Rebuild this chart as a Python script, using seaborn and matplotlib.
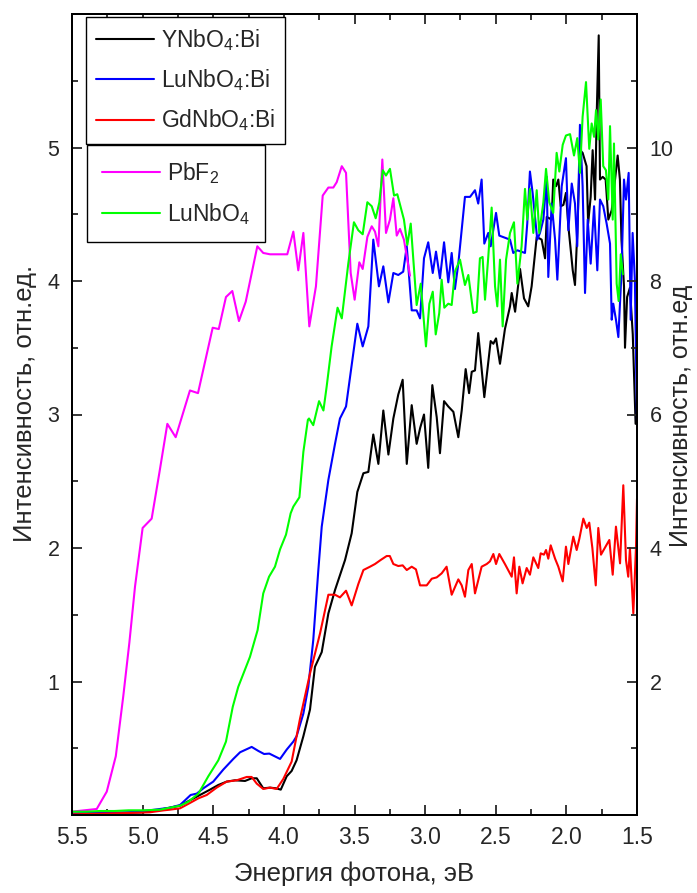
import numpy as np
import pandas as pd
import seaborn as sns
import matplotlib
matplotlib.use("Agg")
import matplotlib.pyplot as plt
from matplotlib.ticker import MultipleLocator, FixedLocator

# ---- spectra: photon energy (eV) and intensity (rel. units) ----
# left axis
e_ynbo = [5.50, 5.20, 5.00, 4.90, 4.806, 4.735, 4.665, 4.594, 4.523, 4.464, 4.405, 4.346,
          4.275, 4.228, 4.192, 4.146, 4.098, 4.056, 4.022, 3.98, 3.945, 3.91, 3.862, 3.815,
          3.78, 3.732, 3.685, 3.638, 3.567, 3.52, 3.48, 3.437, 3.402, 3.367, 3.331, 3.296,
          3.26, 3.225, 3.19, 3.159, 3.13, 3.095, 3.06, 3.035, 3.008, 2.978, 2.949, 2.918,
          2.895, 2.866, 2.836, 2.80, 2.765, 2.741, 2.713, 2.689, 2.67, 2.647, 2.624, 2.581,
          2.536, 2.517, 2.498, 2.47, 2.435, 2.399, 2.387, 2.363, 2.328, 2.30, 2.27, 2.246,
          2.21, 2.175, 2.151, 2.139, 2.104, 2.093, 2.073, 2.057, 2.04, 2.021, 2.003, 1.986,
          1.967, 1.955, 1.939, 1.923, 1.904, 1.885, 1.857, 1.846, 1.828, 1.814, 1.797, 1.785,
          1.771, 1.762, 1.743, 1.722, 1.703, 1.679, 1.637, 1.621, 1.61, 1.592, 1.585, 1.57,
          1.55, 1.53, 1.51]
i_ynbo = [0.01, 0.015, 0.02, 0.035, 0.055, 0.07, 0.11, 0.15, 0.19, 0.225, 0.25, 0.26,
          0.255, 0.275, 0.275, 0.20, 0.205, 0.20, 0.19, 0.29, 0.33, 0.41, 0.59, 0.79,
          1.11, 1.22, 1.51, 1.685, 1.91, 2.11, 2.42, 2.56, 2.57, 2.85, 2.63, 3.03,
          2.70, 2.97, 3.15, 3.26, 2.63, 3.07, 2.78, 2.90, 3.00, 2.60, 3.22, 2.98,
          2.71, 3.10, 3.06, 3.02, 2.83, 3.03, 3.34, 3.16, 3.32, 3.33, 3.61, 3.13,
          3.55, 3.53, 3.57, 3.38, 3.64, 3.81, 3.91, 3.77, 4.09, 3.87, 3.81, 3.96,
          4.33, 4.31, 4.17, 4.48, 4.46, 4.76, 4.71, 4.76, 4.56, 4.57, 4.66, 4.41,
          4.21, 4.08, 3.97, 4.36, 4.98, 4.96, 4.86, 4.43, 4.63, 4.98, 4.61, 5.26,
          5.84, 4.76, 4.78, 4.76, 4.46, 4.53, 4.94, 4.76, 4.31, 3.96, 3.50, 3.88,
          3.95, 3.60, 2.93]

e_lunbo_bi = [5.50, 5.30, 5.10, 4.95, 4.806, 4.735, 4.66, 4.617, 4.57, 4.50, 4.429, 4.358,
              4.31, 4.228, 4.181, 4.14, 4.103, 4.027, 3.98, 3.933, 3.91, 3.862, 3.827, 3.792,
              3.756, 3.732, 3.685, 3.638, 3.603, 3.56, 3.48, 3.442, 3.402, 3.367, 3.327, 3.296,
              3.26, 3.225, 3.19, 3.155, 3.13, 3.095, 3.06, 3.036, 3.008, 2.978, 2.946, 2.923,
              2.895, 2.866, 2.836, 2.812, 2.789, 2.765, 2.718, 2.682, 2.647, 2.624, 2.60, 2.581,
              2.553, 2.536, 2.498, 2.475, 2.399, 2.376, 2.347, 2.293, 2.277, 2.258, 2.239, 2.206,
              2.187, 2.163, 2.139, 2.128, 2.104, 2.08, 2.064, 2.033, 2.003, 1.986, 1.962, 1.939,
              1.923, 1.904, 1.885, 1.868, 1.849, 1.828, 1.804, 1.781, 1.762, 1.739, 1.715, 1.691,
              1.679, 1.668, 1.649, 1.632, 1.61, 1.592, 1.578, 1.559, 1.545, 1.531, 1.515, 1.50]
i_lunbo_bi = [0.01, 0.015, 0.02, 0.035, 0.055, 0.075, 0.15, 0.16, 0.20, 0.25, 0.34, 0.42,
              0.47, 0.51, 0.48, 0.457, 0.46, 0.42, 0.49, 0.55, 0.59, 0.76, 0.96, 1.31,
              1.835, 2.16, 2.51, 2.78, 2.97, 3.06, 3.68, 3.51, 3.66, 4.31, 3.96, 4.11,
              3.84, 4.06, 4.045, 4.07, 4.26, 3.78, 3.78, 3.72, 4.17, 4.29, 4.06, 4.22,
              4.02, 4.29, 3.99, 4.21, 3.94, 4.13, 4.63, 4.63, 4.68, 4.58, 4.76, 4.28,
              4.36, 4.26, 4.51, 4.34, 4.31, 4.21, 4.23, 4.21, 4.43, 4.82, 4.66, 4.31,
              4.36, 4.46, 4.78, 4.03, 4.58, 4.31, 4.01, 4.71, 4.92, 4.38, 4.73, 4.58,
              4.26, 5.17, 4.71, 3.91, 4.46, 4.13, 4.56, 4.08, 4.61, 4.56, 4.43, 4.28,
              3.71, 3.83, 3.71, 3.58, 4.06, 4.76, 4.61, 4.81, 3.71, 4.36, 4.01, 2.95]

e_gdnbo = [5.50, 5.30, 5.10, 4.95, 4.85, 4.806, 4.735, 4.665, 4.605, 4.546, 4.476, 4.405,
           4.334, 4.263, 4.228, 4.192, 4.146, 4.098, 4.051, 4.004, 3.945, 3.886, 3.815, 3.744,
           3.685, 3.638, 3.603, 3.56, 3.52, 3.473, 3.437, 3.39, 3.355, 3.315, 3.272, 3.25,
           3.225, 3.19, 3.159, 3.13, 3.095, 3.065, 3.036, 2.989, 2.953, 2.918, 2.883, 2.848,
           2.812, 2.765, 2.741, 2.718, 2.694, 2.67, 2.647, 2.60, 2.564, 2.541, 2.517, 2.498,
           2.475, 2.435, 2.387, 2.371, 2.352, 2.333, 2.31, 2.281, 2.258, 2.234, 2.199, 2.182,
           2.159, 2.144, 2.128, 2.111, 2.08, 2.057, 2.026, 2.003, 1.986, 1.951, 1.927, 1.908,
           1.88, 1.856, 1.838, 1.816, 1.792, 1.774, 1.755, 1.696, 1.672, 1.649, 1.62, 1.597,
           1.578, 1.562, 1.55, 1.526, 1.507, 1.50]
i_gdnbo = [0.005, 0.01, 0.015, 0.02, 0.035, 0.04, 0.05, 0.09, 0.125, 0.15, 0.205, 0.25,
           0.26, 0.285, 0.285, 0.235, 0.195, 0.205, 0.195, 0.27, 0.40, 0.72, 1.06, 1.36,
           1.65, 1.65, 1.63, 1.68, 1.57, 1.73, 1.835, 1.86, 1.88, 1.91, 1.94, 1.94,
           1.88, 1.865, 1.87, 1.835, 1.86, 1.84, 1.72, 1.72, 1.77, 1.78, 1.81, 1.86,
           1.65, 1.765, 1.72, 1.635, 1.835, 1.88, 1.66, 1.86, 1.88, 1.90, 1.955, 1.88,
           1.955, 1.88, 1.785, 1.93, 1.66, 1.86, 1.735, 1.85, 1.80, 1.93, 1.85, 1.96,
           1.95, 1.985, 1.92, 2.02, 1.92, 1.86, 1.75, 2.01, 1.88, 2.085, 1.985, 2.07,
           2.22, 2.15, 2.19, 2.00, 1.72, 2.15, 1.95, 2.06, 1.80, 2.16, 1.885, 2.47,
           1.91, 1.785, 2.00, 1.51, 2.01, 2.37]

# right axis
e_pbf2 = [5.50, 5.325, 5.254, 5.19, 5.137, 5.094, 5.054, 5.00, 4.936, 4.882, 4.825, 4.766,
          4.665, 4.608, 4.504, 4.461, 4.41, 4.365, 4.318, 4.27, 4.188, 4.146, 4.098, 3.976,
          3.933, 3.898, 3.862, 3.82, 3.773, 3.725, 3.685, 3.65, 3.626, 3.59, 3.56, 3.527,
          3.499, 3.466, 3.442, 3.409, 3.378, 3.355, 3.331, 3.303, 3.277, 3.249, 3.225, 3.201,
          3.178, 3.15, 3.107]
i_pbf2 = [0.05, 0.09, 0.35, 0.88, 1.78, 2.58, 3.42, 4.30, 4.44, 5.12, 5.86, 5.66,
          6.36, 6.32, 7.30, 7.28, 7.76, 7.85, 7.40, 7.69, 8.52, 8.42, 8.40, 8.40,
          8.74, 8.16, 8.72, 7.32, 7.92, 9.28, 9.40, 9.40, 9.48, 9.72, 9.62, 8.12,
          7.72, 8.28, 8.18, 8.66, 8.82, 8.74, 8.52, 9.82, 8.72, 8.92, 9.24, 8.68,
          8.78, 8.62, 8.08]

e_lunbo = [5.50, 5.40, 5.30, 5.20, 5.10, 5.00, 4.877, 4.806, 4.735, 4.676, 4.605, 4.535,
           4.464, 4.41, 4.362, 4.323, 4.24, 4.186, 4.146, 4.105, 4.063, 4.027, 3.985, 3.952,
           3.933, 3.89, 3.862, 3.83, 3.822, 3.792, 3.751, 3.72, 3.697, 3.662, 3.62, 3.59,
           3.544, 3.504, 3.473, 3.442, 3.409, 3.378, 3.35, 3.324, 3.30, 3.277, 3.249, 3.22,
           3.197, 3.15, 3.126, 3.102, 3.06, 3.031, 2.994, 2.97, 2.946, 2.925, 2.90, 2.883,
           2.864, 2.836, 2.812, 2.789, 2.753, 2.718, 2.694, 2.659, 2.635, 2.612, 2.593, 2.576,
           2.553, 2.529, 2.505, 2.489, 2.47, 2.451, 2.427, 2.399, 2.371, 2.347, 2.317, 2.293,
           2.277, 2.258, 2.234, 2.21, 2.192, 2.163, 2.144, 2.121, 2.093, 2.069, 2.05, 2.026,
           2.003, 1.974, 1.946, 1.923, 1.904, 1.885, 1.861, 1.838, 1.821, 1.804, 1.79, 1.774,
           1.757, 1.739, 1.72, 1.703, 1.691, 1.672, 1.663, 1.644, 1.63, 1.615, 1.60]
i_lunbo = [0.05, 0.05, 0.06, 0.06, 0.07, 0.07, 0.08, 0.11, 0.14, 0.20, 0.32, 0.58,
           0.82, 1.10, 1.62, 1.92, 2.37, 2.77, 3.32, 3.57, 3.72, 3.98, 4.20, 4.52,
           4.62, 4.76, 5.44, 5.92, 5.94, 5.84, 6.20, 6.06, 6.42, 7.02, 7.60, 7.44,
           8.26, 8.88, 8.76, 8.70, 9.18, 9.12, 8.94, 9.18, 9.66, 9.58, 9.68, 9.28,
           9.30, 8.92, 8.54, 8.86, 7.64, 7.96, 7.02, 7.66, 7.84, 7.20, 7.52, 8.02,
           7.60, 7.66, 7.64, 8.14, 8.32, 7.94, 8.09, 7.52, 7.54, 8.34, 8.36, 7.72,
           8.36, 9.10, 7.92, 7.62, 8.32, 7.32, 8.32, 8.72, 8.88, 7.96, 8.52, 9.38,
           8.92, 9.38, 8.72, 9.36, 8.72, 9.18, 9.68, 9.18, 9.02, 9.92, 9.64, 10.04,
           10.18, 10.20, 9.88, 10.14, 9.62, 10.46, 10.98, 9.98, 10.36, 10.16, 10.56, 10.12,
           10.72, 9.72, 9.66, 9.22, 10.32, 8.92, 10.06, 7.96, 7.70, 8.40, 8.10]

left_names = [r"YNbO$_4$:Bi", r"LuNbO$_4$:Bi", r"GdNbO$_4$:Bi"]
right_names = [r"PbF$_2$", r"LuNbO$_4$"]
left_colors = ["#000000", "#0000ff", "#ff0000"]
right_colors = ["#ff00ff", "#00ff00"]

x_ticks = [5.5, 5.0, 4.5, 4.0, 3.5, 3.0, 2.5, 2.0, 1.5]
left_ticks = [1, 2, 3, 4, 5]
right_ticks = [2, 4, 6, 8, 10]

sns.set_style("ticks")
plt.rcParams["font.family"] = ["Liberation Sans", "DejaVu Sans"]
plt.rcParams["mathtext.fontset"] = "custom"
plt.rcParams["mathtext.rm"] = "Liberation Sans"
plt.rcParams["mathtext.it"] = "Liberation Sans"
plt.rcParams["mathtext.default"] = "regular"

W, H = 697, 893
x0, x1, y0, y1 = 72, 637, 14, 815          # plot frame in pixels
fig = plt.figure(figsize=(W / 100, H / 100), dpi=100)
ax = fig.add_axes([x0 / W, 1 - y1 / H, (x1 - x0) / W, (y1 - y0) / H])
ax2 = ax.twinx()

lw = 1.5
left_data = [(e_ynbo, i_ynbo), (e_lunbo_bi, i_lunbo_bi), (e_gdnbo, i_gdnbo)]
right_data = [(e_pbf2, i_pbf2), (e_lunbo, i_lunbo)]

for (e, i), name, c in zip(left_data, left_names, left_colors):
    df = pd.DataFrame({"E": e, "I": i})
    sns.lineplot(data=df, x="E", y="I", ax=ax, color=c, lw=lw, label=name,
                 estimator=None, sort=False)
for (e, i), name, c in zip(right_data, right_names, right_colors):
    df = pd.DataFrame({"E": e, "I": i})
    sns.lineplot(data=df, x="E", y="I", ax=ax2, color=c, lw=lw, label=name,
                 estimator=None, sort=False)

ax.set_xlim(5.5, 1.5)
ax.set_ylim(0, 6)
ax2.set_ylim(0, 12)

ax.xaxis.set_major_locator(FixedLocator(x_ticks))
ax.xaxis.set_minor_locator(MultipleLocator(0.25))
ax.set_xticklabels([f"{v:.1f}" for v in x_ticks])
ax.yaxis.set_major_locator(FixedLocator(left_ticks))
ax.yaxis.set_minor_locator(MultipleLocator(0.5))
ax2.yaxis.set_major_locator(FixedLocator(right_ticks))
ax2.yaxis.set_minor_locator(MultipleLocator(1))

ax.tick_params(axis="x", which="both", direction="in", top=True, labelsize=16.5, pad=8,
               width=1.3)
ax.tick_params(axis="x", which="major", length=7)
ax.tick_params(axis="x", which="minor", length=4)
ax.tick_params(axis="y", which="both", direction="in", right=False, labelsize=15.5, pad=9,
               width=1.3)
ax.tick_params(axis="y", which="major", length=7)
ax.tick_params(axis="y", which="minor", length=4)
ax2.tick_params(axis="y", which="both", direction="in", labelsize=15.5, pad=9, width=1.3)
ax2.tick_params(axis="y", which="major", length=7)
ax2.tick_params(axis="y", which="minor", length=4)

for a in (ax, ax2):
    for s in a.spines.values():
        s.set_linewidth(1.4)
        s.set_color("black")

ax.set_xlabel("Энергия фотона, эВ", fontsize=18.5)
ax.xaxis.set_label_coords(0.5, -(862 - y1) / (y1 - y0))
ax.set_ylabel("Интенсивность, отн.ед.", fontsize=18.5)
ax.yaxis.set_label_coords((37 - x0) / (x1 - x0), (y1 - 403) / (y1 - y0))
ax2.set_ylabel("Интенсивность, отн.ед", fontsize=18)
ax2.yaxis.set_label_coords((669 - x0) / (x1 - x0), (y1 - 416) / (y1 - y0))

leg_kw = dict(frameon=True, fancybox=False, shadow=False, framealpha=1, edgecolor="black",
              fontsize=16.5, handlelength=2.53, borderaxespad=0, loc="upper left",
              bbox_transform=fig.transFigure)
h1 = ax.get_lines()[:3]
leg1 = ax.legend(h1, left_names, bbox_to_anchor=(86 / W, 1 - 17 / H),
                 handletextpad=0.28, borderpad=0.45, labelspacing=0.62, **leg_kw)
leg1.get_frame().set_linewidth(1.0)
h2 = ax2.get_lines()[:2]
leg2 = ax2.legend(h2, right_names, bbox_to_anchor=(87 / W, 1 - 145 / H),
                  handletextpad=0.32, borderpad=0.65, labelspacing=0.66, **leg_kw)
leg2.get_frame().set_linewidth(1.0)

fig.savefig("out.png", dpi=100)
